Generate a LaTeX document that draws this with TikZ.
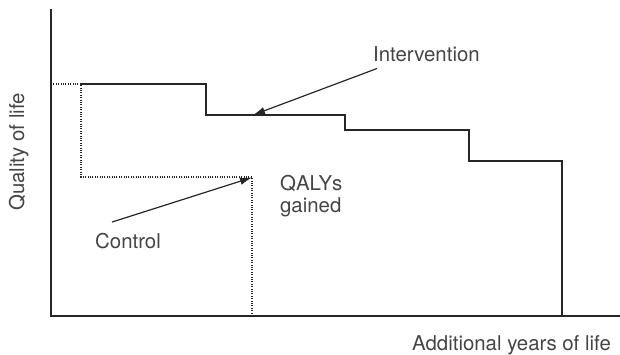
\documentclass[tikz,border=0pt]{standalone}
\usepackage{fontspec}
\setmainfont{TeX Gyre Heros}
\usetikzlibrary{arrows.meta}
\definecolor{ink}{HTML}{262626}
\definecolor{txt}{HTML}{454545}
\tikzset{
  axis/.style={draw=ink, line width=1.8pt},
  curve/.style={draw=ink, line width=1.6pt, line join=miter},
  ctrl/.style={draw=ink, line width=1.3pt, dash pattern=on 0.9pt off 1.5pt},
  pointer/.style={draw=ink, line width=1.2pt, -{Latex[length=12pt,width=7.5pt]}},
  lbl/.style={text=txt, inner sep=0pt, font=\fontsize{20.4}{22}\selectfont},
}
\begin{document}
\begin{tikzpicture}[x=1pt, y=-1pt]
\useasboundingbox (0,0) rectangle (620,355);

% axes
\coordinate (origin) at (51,316);
\coordinate (ytop) at (51,9);
\coordinate (xend) at (620,316);
\draw[axis] (ytop) -- (origin) -- (xend);

% intervention survival curve
\coordinate (i0) at (81,84);
\coordinate (i1) at (206,84);
\coordinate (i2) at (206,115);
\coordinate (i3) at (345,115);
\coordinate (i4) at (345,130);
\coordinate (i5) at (469,130);
\coordinate (i6) at (469,161);
\coordinate (i7) at (562,161);
\coordinate (i8) at (562,316);
\draw[curve] (i0) -- (i1) -- (i2) -- (i3) -- (i4) -- (i5) -- (i6) -- (i7) -- (i8);

% control survival curve
\coordinate (c0) at (51,84);
\coordinate (c1) at (81,84);
\coordinate (c2) at (81,177);
\coordinate (c3) at (252,177);
\coordinate (c4) at (252,316);
\draw[ctrl] (c0) -- (c1) -- (c2) -- (c3) -- (c4);

% labels
\node[lbl, anchor=base west] (interv) at (373,62) {Intervention};
\node[lbl, anchor=base west] (control) at (95,248) {Control};
\node[lbl, anchor=north west, align=left] (qaly) at (280,175) {QALYs\\gained};
\node[lbl, anchor=base west] (xlabel) at (412,350) {Additional years of life};
\node[lbl, anchor=base west, rotate=90] (ylabel) at (24,211) {Quality of life};

% pointers
\coordinate (itip) at (253,115);
\coordinate (ctip) at (252,177.5);
\draw[pointer] (interv.south west) ++(4,6) coordinate (istart) (istart) -- (itip);
\draw[pointer] (control.north west) ++(17,-10.5) coordinate (cstart) (cstart) -- (ctip);
\end{tikzpicture}
\end{document}
